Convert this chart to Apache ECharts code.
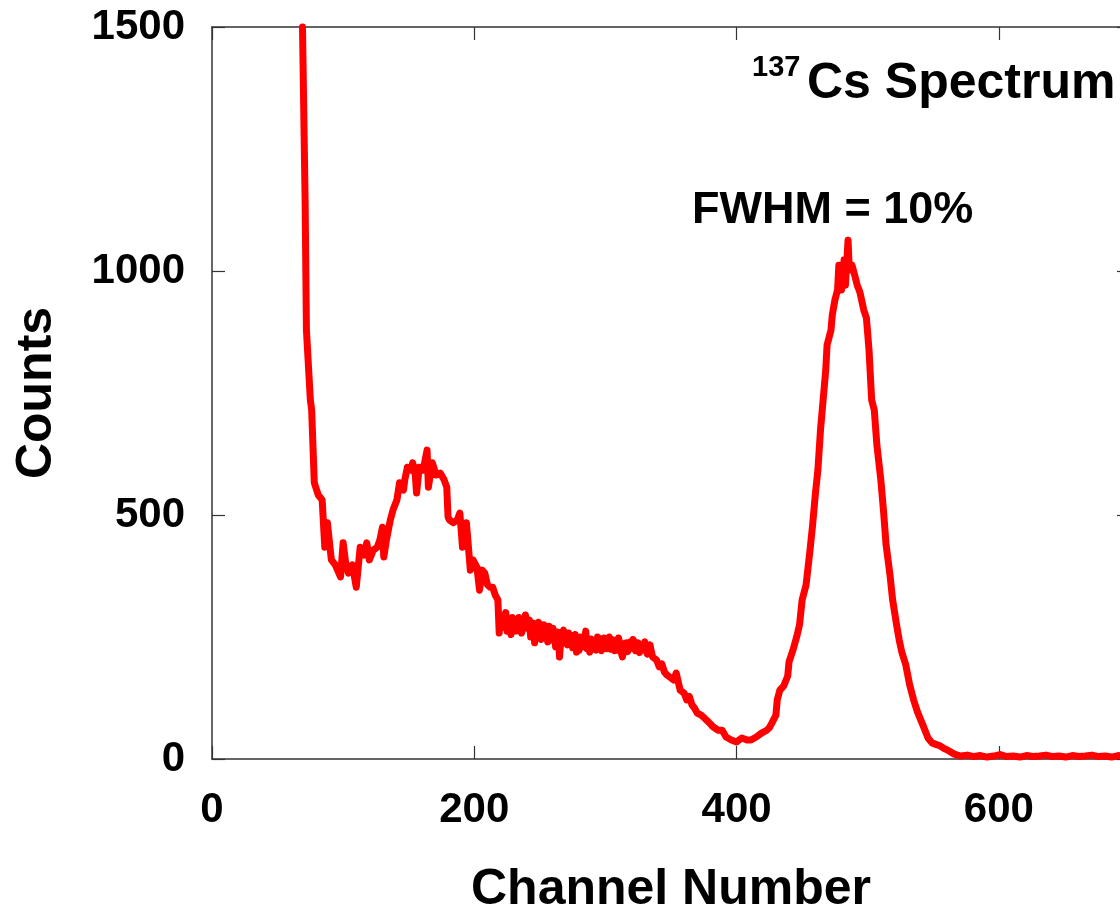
<!DOCTYPE html>
<html>
<head>
<meta charset="utf-8">
<script src="https://cdn.jsdelivr.net/npm/echarts@6/dist/echarts.min.js"></script>
<style>
html,body{margin:0;padding:0;background:#fff;}
#chart{width:1120px;height:914px;}
</style>
</head>
<body>
<div id="chart"></div>
<script>
const channels = [
69,71,72,75,76,78,81,84,86,88,
91,94,98,100,102,104,107,110,113,116,
118,120,123,126,128,130,131,133,136,138,
141,143,146,147,149,152,153,155,156,158,
161,164,165,167,168,171,174,177,179,180,
181,184,187,189,191,194,197,199,202,204,
206,208,210,212,214,216,218,
219,220,221,222,223,224,225,226,227,228,
229,230,231,232,233,234,235,236,238,239,
240,241,242,243,244,245,246,247,248,249,
250,251,252,253,255,256,257,258,259,260,
261,262,263,264,265,266,268,269,271,272,
274,275,276,277,278,279,280,281,282,283,
284,285,286,287,288,289,290,291,292,293,
294,296,297,298,299,300,301,302,303,304,
305,306,307,309,310,311,312,313,314,316,
317,318,319,320,321,322,323,324,325,326,
327,328,330,331,332,334,335,336,
339,341,343,345,347,349,352,354,357,360,
362,364,366,368,370,373,375,377,380,382,
386,389,392,396,400,404,408,411,415,419,
423,425,427,430,431,433,436,439,440,443,
446,448,450,453,456,458,460,462,464,466,
468,469,472,473,475,477,478,480,482,483,
485,486,488,490,492,494,497,499,501,503,
505,507,510,512,514,517,519,522,524,526,
529,532,535,538,542,546,549,552,555,558,
561,566,571,576,581,586,591,596,601,606,
611,616,621,626,631,636,641,646,651,656,
661,666,671,676,681,686,691,696,700];
const counts = [
1500,1145,879,736,715,566,541,531,434,484,
408,398,373,443,400,381,398,352,434,418,
443,408,428,434,449,475,414,449,490,510,
531,566,551,572,598,592,607,582,545,598,
592,633,557,592,607,582,586,572,557,496,
490,484,490,504,434,484,387,408,393,346,
387,381,357,352,352,336,326,
258,295,285,270,281,300,262,280,270,255,
290,275,285,262,265,290,279,258,275,295,
292,268,285,250,260,278,238,265,262,280,
268,245,250,275,264,240,272,255,244,268,
255,230,234,260,209,245,264,240,234,258,
250,228,238,255,219,245,223,250,248,230,
244,262,226,240,219,246,240,225,234,223,
250,245,222,227,248,240,226,234,250,225,
238,244,222,223,248,235,218,209,236,238,
220,222,240,227,245,240,222,227,238,218,
232,223,240,223,215,234,220,209,
203,189,195,178,172,168,162,176,141,135,
121,128,111,104,94,90,85,80,72,66,
59,59,45,39,35,43,39,39,45,53,
59,64,74,90,121,141,150,170,199,223,
252,275,326,357,428,480,541,592,674,736,
797,848,879,910,941,961,1012,961,1023,971,
1063,1002,1012,992,971,957,920,904,838,736,
715,643,572,510,439,377,326,275,244,219,
193,152,121,96,70,43,33,30,27,22,
18,10,6,8,5,7,4,6,9,5,
6,4,7,5,6,8,5,6,4,7,
5,6,8,5,6,4,7,5,6];
const xTicks = [0, 200, 400, 600];
const yTicks = [0, 500, 1000, 1500];
const titleMain = 'Cs Spectrum';
const titleSup = '137';
const fwhmText = 'FWHM = 10%';

const FONT = "'Liberation Sans', Arial, Helvetica, sans-serif";
const pts = channels.map((c, i) => [c, counts[i]]);
const chart = echarts.init(document.getElementById('chart'), null, {renderer: 'canvas'});
const axisLine = {show: true, onZero: false, lineStyle: {color: '#333', width: 1.5}};
const tick = {show: true, inside: true, length: 13, lineStyle: {color: '#333', width: 1.2}};
chart.setOption({
  animation: false,
  backgroundColor: '#fff',
  grid: {left: 212, top: 27, width: 918, height: 732, containLabel: false, outerBoundsMode: 'none'},
  xAxis: [{
    type: 'value', min: 0, max: 700, interval: 200, position: 'bottom',
    axisLine: axisLine, axisTick: tick, splitLine: {show: false},
    axisLabel: {fontSize: 42, fontWeight: 'bold', color: '#000', fontFamily: FONT, margin: 30,
      formatter: v => xTicks.includes(v) ? String(v) : ''},
    name: 'Channel Number', nameLocation: 'middle', nameGap: 106,
    nameTextStyle: {fontSize: 50, fontWeight: 'bold', color: '#000', fontFamily: FONT}
  }, {
    type: 'value', min: 0, max: 700, interval: 200, position: 'top',
    axisLine: axisLine, axisTick: tick, axisLabel: {show: false}, splitLine: {show: false}
  }],
  yAxis: [{
    type: 'value', min: 0, max: 1500, interval: 500, position: 'left',
    axisLine: axisLine, axisTick: tick, splitLine: {show: false},
    axisLabel: {fontSize: 42, fontWeight: 'bold', color: '#000', fontFamily: FONT, margin: 27,
      formatter: v => yTicks.includes(v) ? String(v) : ''},
    name: 'Counts', nameLocation: 'middle', nameGap: 150, nameRotate: 90,
    nameTextStyle: {fontSize: 50, fontWeight: 'bold', color: '#000', fontFamily: FONT}
  }, {
    type: 'value', min: 0, max: 1500, interval: 500, position: 'right',
    axisLine: axisLine, axisTick: tick, axisLabel: {show: false}, splitLine: {show: false}
  }],
  series: [{
    type: 'line', xAxisIndex: 0, yAxisIndex: 0, data: pts,
    showSymbol: false, symbol: 'none', clip: false,
    lineStyle: {color: '#ff0000', width: 7, cap: 'round', join: 'round'}
  }],
  graphic: [
    {type: 'text', left: 752, top: 53, style: {text: titleSup, font: 'bold 29px ' + FONT, fill: '#000'}},
    {type: 'text', left: 807, top: 59, style: {text: titleMain, font: 'bold 50px ' + FONT, fill: '#000'}},
    {type: 'text', left: 692, top: 188, style: {text: fwhmText, font: 'bold 45px ' + FONT, fill: '#000'}}
  ]
});
</script>
</body>
</html>
